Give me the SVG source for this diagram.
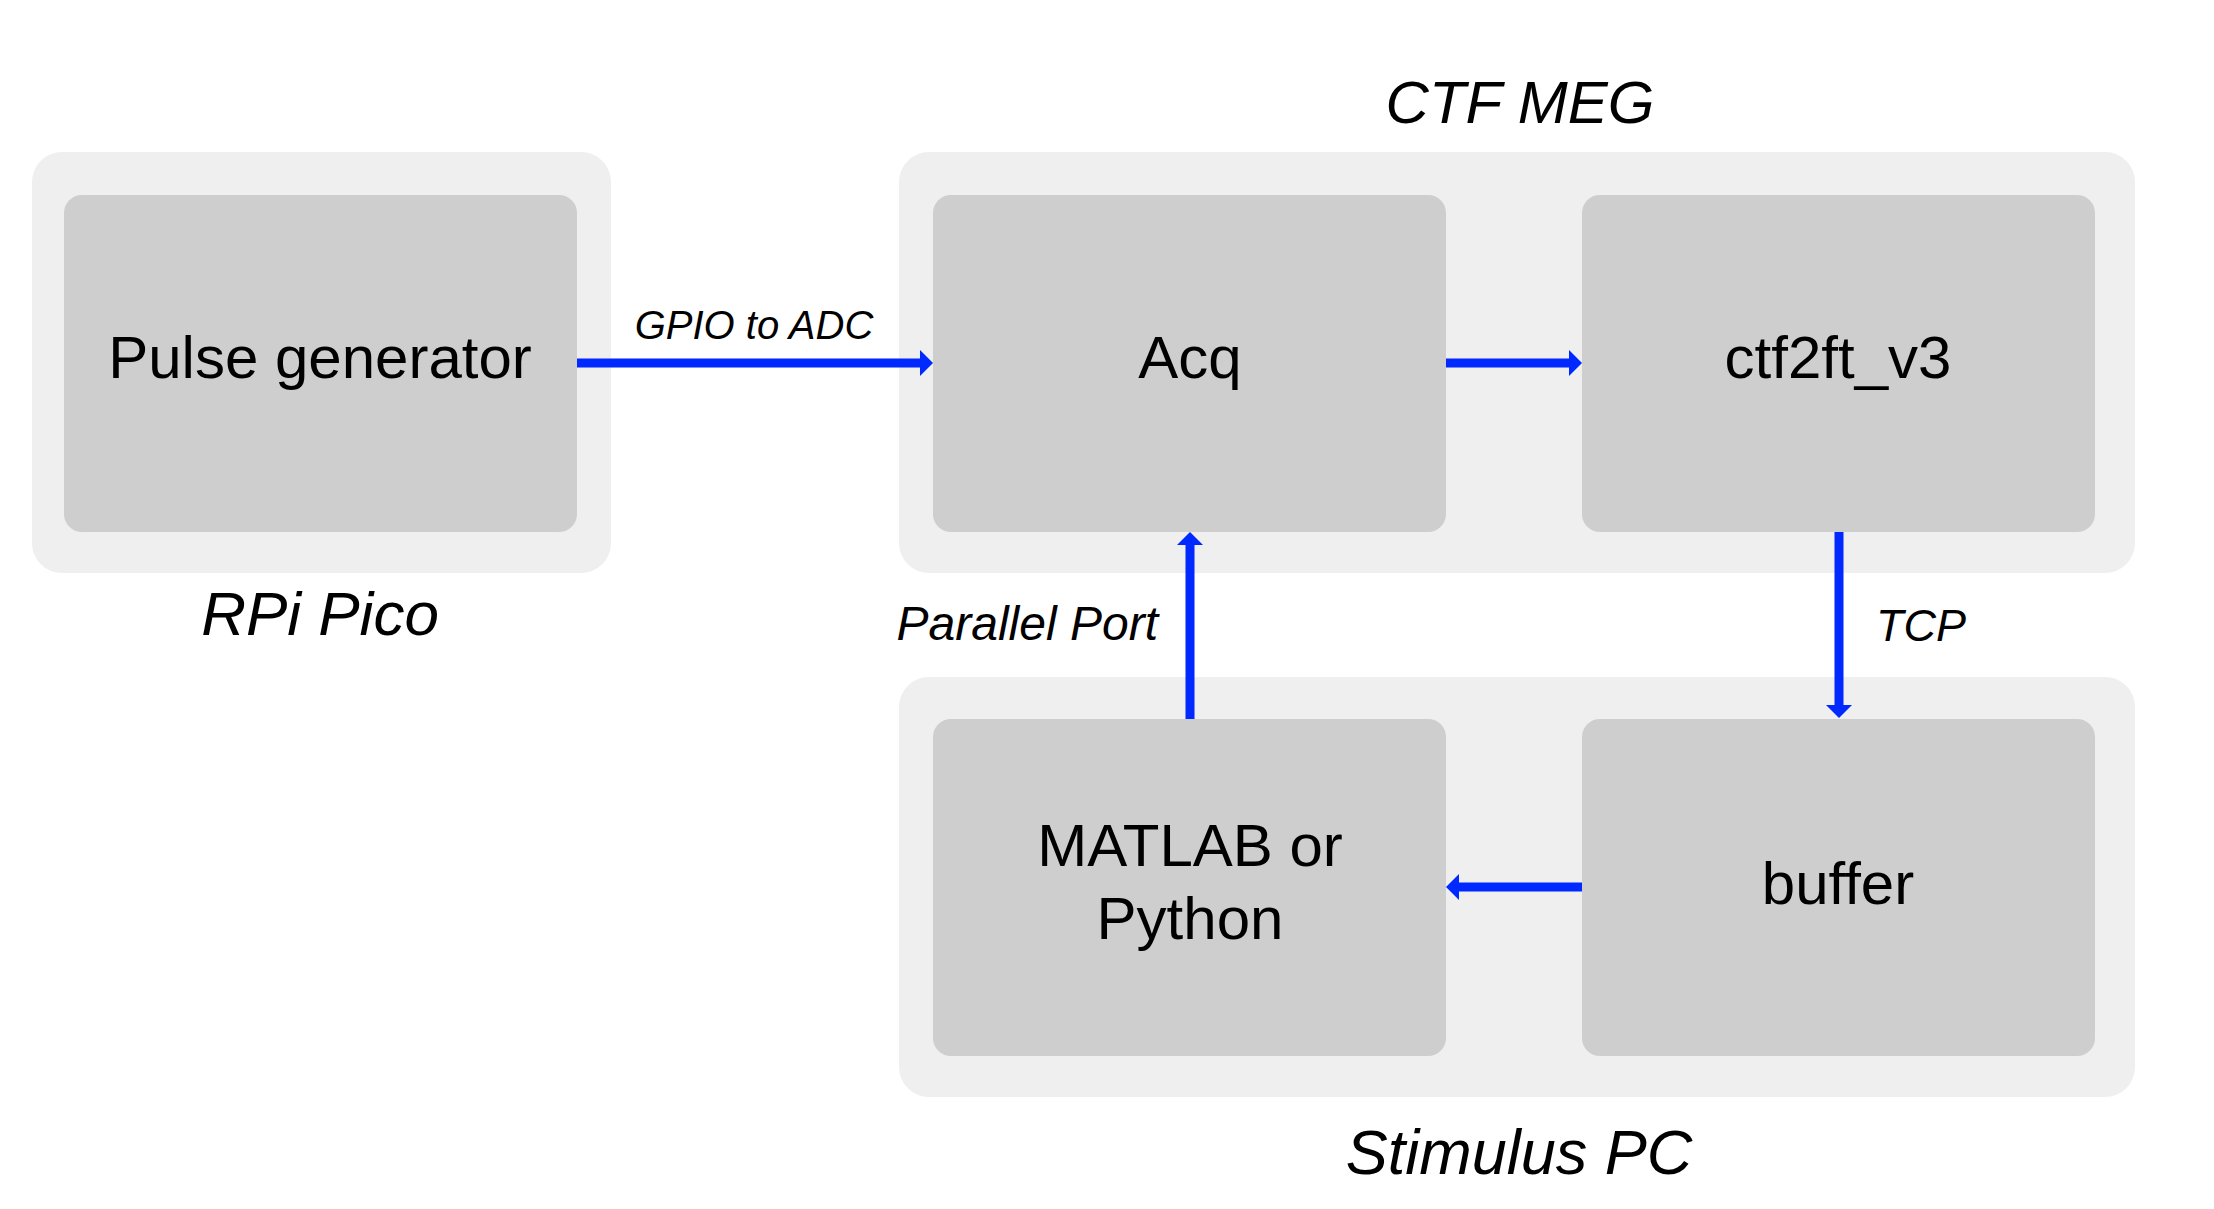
<svg xmlns="http://www.w3.org/2000/svg" width="2214" height="1209" viewBox="0 0 2214 1209">
<style>
.grp{fill:#efefef}
.node{fill:#cecece}
.lbl{font-family:"Liberation Sans",Arial,sans-serif;font-size:60px;fill:#000;text-anchor:middle}
.glbl{font-family:"Liberation Sans",Arial,sans-serif;font-style:italic;fill:#000;text-anchor:middle}
.elbl{font-family:"Liberation Sans",Arial,sans-serif;font-style:italic;fill:#000}
.edge{stroke:#0029ff;stroke-width:9;fill:none}
</style>
<defs>
<marker id="ah" markerUnits="userSpaceOnUse" markerWidth="13" markerHeight="26" viewBox="0 0 13 26" refX="0" refY="13" orient="auto">
<path d="M0,0 L13,13 L0,26 z" fill="#0029ff"/>
</marker>
</defs>
<rect width="2214" height="1209" fill="#fff"/>
<g id="group-rpi">
<rect class="grp" x="32" y="152" width="579" height="421" rx="30"/>
<text class="glbl" x="320" y="635" font-size="62">RPi Pico</text>
</g>
<g id="group-ctf">
<rect class="grp" x="899" y="152" width="1236" height="421" rx="30"/>
<text class="glbl" x="1520" y="123" font-size="60">CTF MEG</text>
</g>
<g id="group-stim">
<rect class="grp" x="899" y="677" width="1236" height="420" rx="30"/>
<text class="glbl" x="1519" y="1174" font-size="63">Stimulus PC</text>
</g>
<g id="node-pulse">
<rect class="node" x="64" y="195" width="513" height="337" rx="18"/>
<text class="lbl" x="320" y="378">Pulse generator</text>
</g>
<g id="node-acq">
<rect class="node" x="933" y="195" width="513" height="337" rx="18"/>
<text class="lbl" x="1190" y="378">Acq</text>
</g>
<g id="node-ctf2ft">
<rect class="node" x="1582" y="195" width="513" height="337" rx="18"/>
<text class="lbl" x="1838" y="378">ctf2ft_v3</text>
</g>
<g id="node-matlab">
<rect class="node" x="933" y="719" width="513" height="337" rx="18"/>
<text class="lbl" x="1190" y="866">MATLAB or</text>
<text class="lbl" x="1190" y="939">Python</text>
</g>
<g id="node-buffer">
<rect class="node" x="1582" y="719" width="513" height="337" rx="18"/>
<text class="lbl" x="1838" y="904">buffer</text>
</g>
<g id="connectors">
<path class="edge" d="M577,363 H920" marker-end="url(#ah)"/>
<text class="elbl" x="754" y="339" font-size="40" text-anchor="middle">GPIO to ADC</text>
<path class="edge" d="M1446,363 H1569" marker-end="url(#ah)"/>
<path class="edge" d="M1839,532 V705" marker-end="url(#ah)"/>
<text class="elbl" x="1876" y="641" font-size="45">TCP</text>
<path class="edge" d="M1582,887 H1459" marker-end="url(#ah)"/>
<path class="edge" d="M1190,719 V545" marker-end="url(#ah)"/>
<text class="elbl" x="1158" y="640" font-size="48" text-anchor="end">Parallel Port</text>
</g>
</svg>
